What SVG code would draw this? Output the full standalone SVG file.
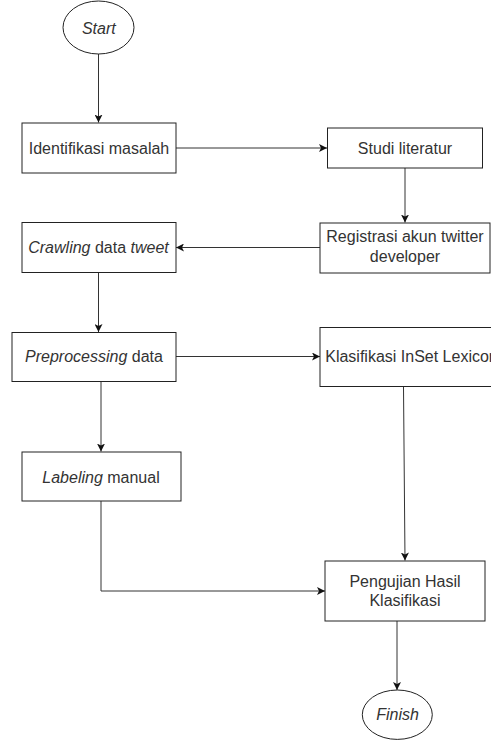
<svg xmlns="http://www.w3.org/2000/svg" width="491" height="740" viewBox="0 0 491 740">
<style>
.box{fill:#fff;stroke:#222;stroke-width:1}
.lbl{font-family:"Liberation Sans",Arial,sans-serif;font-size:16px;fill:#333;text-anchor:middle}
.it{font-style:italic}
.edge{fill:none;stroke:#333;stroke-width:1}
</style>
<defs>
<marker id="arr" markerUnits="userSpaceOnUse" markerWidth="9" markerHeight="8" refX="8" refY="4" orient="auto">
<path d="M0,0 L8,4 L0,8 L2,4 Z" fill="#111"/>
</marker>
</defs>
<rect width="491" height="740" fill="#fff"/>
<g id="connectors">
<path class="edge" d="M98.5,54 L98.5,122.5" marker-end="url(#arr)"/>
<path class="edge" d="M176,148 L327,148" marker-end="url(#arr)"/>
<path class="edge" d="M405,168 L405,222.5" marker-end="url(#arr)"/>
<path class="edge" d="M320,247.5 L176,247.5" marker-end="url(#arr)"/>
<path class="edge" d="M98.5,272 L98.5,332" marker-end="url(#arr)"/>
<path class="edge" d="M176,356.5 L320,356.5" marker-end="url(#arr)"/>
<path class="edge" d="M101,382 L101,451.5" marker-end="url(#arr)"/>
<path class="edge" d="M403.5,387 L405,560.5" marker-end="url(#arr)"/>
<path class="edge" d="M101,501 L101,591 L325,591" marker-end="url(#arr)"/>
<path class="edge" d="M397,621 L397,690" marker-end="url(#arr)"/>
</g>
<g id="start">
<ellipse class="box" cx="98.5" cy="27.5" rx="35.5" ry="26.5"/>
<text class="lbl it" x="98.8" y="33.5">Start</text>
</g>
<g id="identifikasi">
<rect class="box" x="22" y="123" width="154" height="50"/>
<text class="lbl" x="99" y="153.8">Identifikasi masalah</text>
</g>
<g id="studi">
<rect class="box" x="327.5" y="128" width="155" height="40"/>
<text class="lbl" x="405" y="153.8">Studi literatur</text>
</g>
<g id="registrasi">
<rect class="box" x="320" y="223" width="170" height="50"/>
<text class="lbl" x="405" y="242.3">Registrasi akun twitter</text>
<text class="lbl" x="405" y="262.3">developer</text>
</g>
<g id="crawling">
<rect class="box" x="22" y="222.5" width="154" height="50"/>
<text class="lbl" x="98.5" y="253"><tspan class="it">Crawling</tspan> data <tspan class="it">tweet</tspan></text>
</g>
<g id="preprocessing">
<rect class="box" x="12" y="332.5" width="164" height="49"/>
<text class="lbl" x="94" y="362"><tspan class="it">Preprocessing</tspan> data</text>
</g>
<g id="klasifikasi">
<rect class="box" x="320" y="327.5" width="182" height="59"/>
<text class="lbl" x="411.5" y="362">Klasifikasi InSet Lexicon</text>
</g>
<g id="labeling">
<rect class="box" x="22" y="452" width="159" height="49"/>
<text class="lbl" x="101" y="482.5"><tspan class="it">Labeling</tspan> manual</text>
</g>
<g id="pengujian">
<rect class="box" x="325" y="561" width="160" height="60"/>
<text class="lbl" x="405" y="586.7">Pengujian Hasil</text>
<text class="lbl" x="405" y="606.2">Klasifikasi</text>
</g>
<g id="finish">
<ellipse class="box" cx="397.3" cy="714.7" rx="35" ry="24.7"/>
<text class="lbl it" x="397.5" y="720.3">Finish</text>
</g>
</svg>
